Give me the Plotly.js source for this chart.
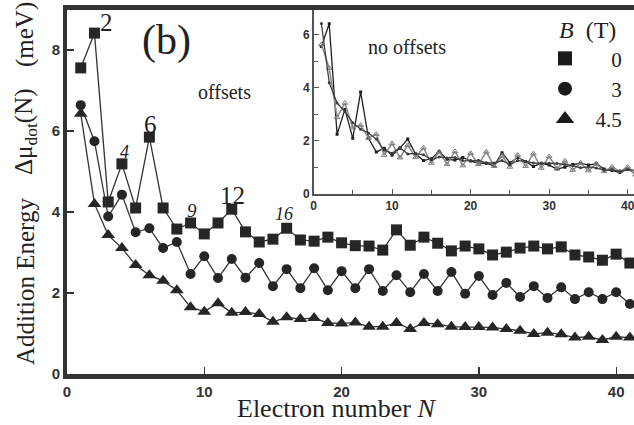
<!DOCTYPE html>
<html>
<head>
<meta charset="utf-8">
<script src="https://cdn.plot.ly/plotly-3.0.1.min.js"></script>
<style>html,body{margin:0;padding:0;background:#fff;}#chart{width:634px;height:425px;}</style>
</head>
<body>
<div id="chart"></div>
<script>
// ---- data ----
const electronN = [1,2,3,4,5,6,7,8,9,10,11,12,13,14,15,16,17,18,19,20,21,22,23,24,25,26,27,28,29,30,31,32,33,34,35,36,37,38,39,40,41];
const fieldLabels = ["0", "3", "4.5"];           // B (T)
const offsets = [2, 1, 0];                         // vertical offsets used in main panel (meV)
const addB0 = [7.56,8.42,4.25,5.19,4.10,5.85,4.10,3.58,3.73,3.46,3.73,4.07,3.51,3.26,3.33,3.60,3.31,3.28,3.38,3.24,3.17,3.16,3.06,3.56,3.18,3.38,3.23,3.04,3.16,3.09,2.94,3.01,3.11,3.16,3.09,3.14,2.94,2.89,2.81,2.96,2.74];
const addB3 = [6.64,5.75,3.89,4.43,3.50,3.60,3.11,3.26,2.47,2.91,2.37,2.84,2.38,2.74,2.17,2.59,2.12,2.61,2.07,2.54,2.12,2.59,2.05,2.44,2.02,2.47,2.05,2.52,1.98,2.42,1.95,2.25,1.90,2.17,1.88,2.14,1.85,2.02,1.85,2.02,1.73];
const addB45 = [6.43,4.20,3.43,3.11,2.69,2.44,2.30,2.07,1.65,1.54,1.75,1.51,1.53,1.48,1.29,1.40,1.36,1.38,1.26,1.25,1.27,1.17,1.17,1.26,1.11,1.26,1.23,1.17,1.16,1.16,1.15,1.11,1.07,0.99,1.02,0.98,0.90,0.92,0.84,0.92,0.90];
const mainTickVals = [0,10,20,30,40];
const yTickVals = [0,2,4,6,8];

const series = [addB0, addB3, addB45];
const symbols = ['square', 'circle', 'triangle-up'];
const sizes = [11, 10, 12];

// pixel -> paper helpers (plot area: x 67..634, y 10..374)
const L = 67, R = 634, T = 10, B = 374;
const px = p => (p - L) / (R - L);
const py = p => (B - p) / (B - T);

const traces = [];
series.forEach((s, i) => {
  traces.push({
    x: electronN, y: s, mode: 'lines+markers', showlegend: false,
    line: {color: '#333', width: 1.3},
    marker: {symbol: symbols[i], size: sizes[i], color: '#262626', line: {width: 0}},
    xaxis: 'x', yaxis: 'y', hoverinfo: 'skip'
  });
});
// inset: no offsets
const insetStyles = [
  {line: {color: '#1e1e1e', width: 1.3}, marker: {symbol: 'square', size: 3, color: '#1e1e1e'}},
  {line: {color: '#8a8a8a', width: 1.5}, marker: {symbol: 'triangle-up-open', size: 5, color: '#7a7a7a', line: {width: 1}}},
  {line: {color: '#3c3c3c', width: 1.3}, marker: {symbol: 'circle', size: 3, color: '#3c3c3c'}}
];
series.forEach((s, i) => {
  traces.push(Object.assign({
    x: electronN, y: s.map(v => v - offsets[i]), mode: 'lines+markers', showlegend: false,
    xaxis: 'x2', yaxis: 'y2', hoverinfo: 'skip'
  }, insetStyles[i]));
});
// legend entries (marker only)
const pad = ['\u2002\u2007\u2008', '\u2002\u2007\u2008', '\u2002'];
fieldLabels.forEach((lab, i) => {
  traces.push({
    x: [null], y: [null], mode: 'markers', name: pad[i] + lab, showlegend: true,
    marker: {symbol: symbols[i], size: [14, 14, 17][i], color: '#1a1a1a'}
  });
});

const serif = 'Liberation Serif, Times New Roman, serif';
const tickFont = {family: 'Liberation Sans, Arial, sans-serif', size: 15, weight: 700, color: '#333'};
const insetTickFont = {family: 'Liberation Sans, Arial, sans-serif', size: 12, weight: 700, color: '#333'};

function ann(text, x, y, size, extra) {
  return Object.assign({text: text, xref: 'paper', yref: 'paper', x: px(x), y: py(y),
    xanchor: 'center', yanchor: 'middle', showarrow: false,
    font: {family: serif, size: size, color: '#222'}}, extra || {});
}

const layout = {
  width: 634, height: 425,
  margin: {l: L, r: 0, t: T, b: 425 - B, pad: 0},
  paper_bgcolor: '#fff', plot_bgcolor: 'rgba(0,0,0,0)',
  showlegend: true,
  legend: {
    x: px(545), y: py(7), xanchor: 'left', yanchor: 'top',
    bgcolor: 'rgba(0,0,0,0)', borderwidth: 0,
    font: {family: serif, size: 21, color: '#222'},
    title: {text: '\u2002<i>B</i>\u00a0\u00a0(T)', font: {family: serif, size: 24, color: '#222'}},
    itemclick: false, tracegroupgap: 0
  },
  xaxis: {
    domain: [0, 1], range: [0, 41.3], tickvals: mainTickVals, ticks: 'inside', ticklen: 7,
    tickwidth: 1.3, tickcolor: '#333', showline: true, linewidth: 5, linecolor: '#333',
    mirror: true, showgrid: false, zeroline: false, tickfont: tickFont
  },
  yaxis: {
    domain: [0, 1], range: [0, 8.99], tickvals: yTickVals, ticks: 'inside', ticklen: 7,
    tickwidth: 1.3, tickcolor: '#333', showline: true, linewidth: 4, linecolor: '#333',
    showgrid: false, zeroline: false, tickfont: tickFont
  },
  xaxis2: {
    domain: [px(313.5), 1], range: [0, 40.8], anchor: 'y2', dtick: 10, tick0: 0,
    ticks: 'inside', ticklen: 5, tickwidth: 1, tickcolor: '#555', ticklabeloverflow: 'allow',
    minor: {dtick: 5, tick0: 0, ticks: 'inside', ticklen: 4, tickcolor: '#555'},
    showline: true, linewidth: 1.5, linecolor: '#555', showgrid: false, zeroline: false,
    tickfont: insetTickFont
  },
  yaxis2: {
    domain: [py(194), 1], range: [0, 6.94], anchor: 'x2', dtick: 2, tick0: 0,
    ticks: 'inside', ticklen: 5, tickwidth: 1, tickcolor: '#555',
    minor: {dtick: 1, tick0: 0, ticks: 'inside', ticklen: 4, tickcolor: '#555'},
    showline: true, linewidth: 1.5, linecolor: '#555', showgrid: false, zeroline: false,
    tickfont: insetTickFont
  },
  annotations: [
    ann('Addition Energy', 25, 282, 25, {textangle: -90}),
    ann('\u0394\u03bc<sub>dot</sub>(N)', 25, 132, 25, {textangle: -90}),
    ann('(meV)', 25, 35, 25, {textangle: -90}),
    ann('Electron number <i>N</i>', 337, 408, 26),
    ann('(b)', 166, 40, 42),
    ann('offsets', 224, 92, 20),
    ann('no offsets', 407, 47, 20),
    ann('2', 106, 22, 25),
    ann('<i>4</i>', 124, 152, 18),
    ann('6', 150, 124, 25),
    ann('<i>9</i>', 192, 210, 19),
    ann('12', 232, 195, 25),
    ann('<i>16</i>', 284, 214, 18)
  ]
};

Plotly.newPlot('chart', traces, layout, {staticPlot: true, displayModeBar: false});
</script>
</body>
</html>
